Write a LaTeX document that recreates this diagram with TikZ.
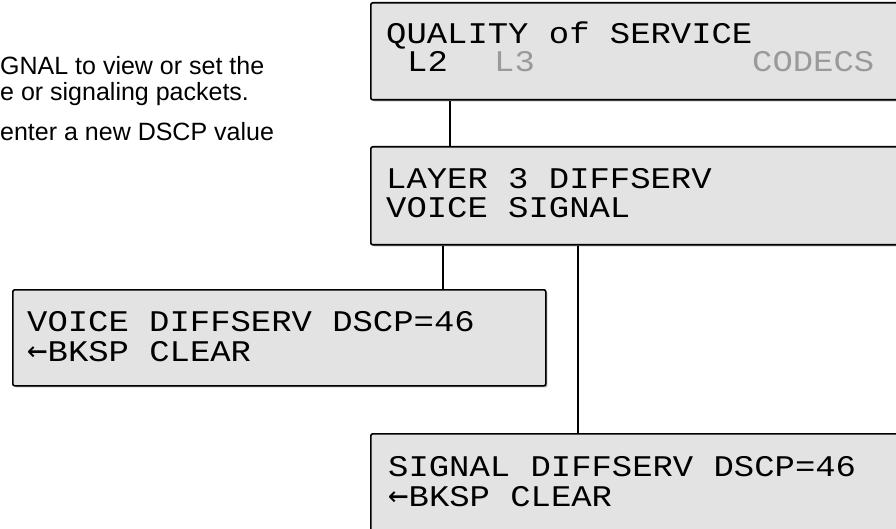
\documentclass[tikz,border=0pt]{standalone}
\usepackage{fontspec}
\setmainfont{Liberation Sans}
\newfontfamily\lcdfont[FakeStretch=1.13]{Liberation Mono}
\newfontfamily\arrowfont{DejaVu Sans Mono}
\usetikzlibrary{shadows}
\definecolor{lcdfill}{HTML}{E3E3E3}
\definecolor{lcdgray}{HTML}{9A9A9A}
\newcommand{\bkarrow}{{\arrowfont\fontsize{34}{40}\selectfont ←}}
\begin{document}
\begin{tikzpicture}[x=1pt,y=-1pt,
  lcdbox/.style={draw=black, line width=1.6pt, fill=lcdfill, rounded corners=2pt,
    drop shadow={shadow xshift=1.6pt, shadow yshift=-1.6pt, fill=gray!60, opacity=1},
    anchor=north west, inner sep=0pt},
  lcdtext/.style={anchor=base west, inner sep=0pt, font=\lcdfont\fontsize{30}{36}\selectfont},
  note/.style={anchor=base west, inner sep=0pt, font=\fontsize{25}{30}\selectfont},
  wire/.style={draw=black, line width=1.6pt}]
\clip (0,0) rectangle (896,529);
\useasboundingbox (0,0) rectangle (896,529);
% notes
\node[note] (n1) at (0,75) {GNAL to view or set the};
\node[note] (n2) at (0,101) {e or signaling packets.};
\node[note] (n3) at (0,141) {enter a new DSCP value};
% boxes
\node[lcdbox, minimum width=560pt, minimum height=97pt] (box1) at (370,2) {};
\node[lcdbox, minimum width=560pt, minimum height=98pt] (box2) at (370,146) {};
\node[lcdbox, minimum width=533pt, minimum height=96pt] (box3) at (12,289) {};
\node[lcdbox, minimum width=560pt, minimum height=120pt] (box4) at (370,433) {};
% texts
\node[lcdtext] (t11) at (386,44) {QUALITY of SERVICE};
\node[lcdtext] (t12) at (407,72) {L2};
\node[lcdtext, text=lcdgray] (t13) at (494,72) {L3};
\node[lcdtext, text=lcdgray] (t14) at (752,72) {CODECS};
\node[lcdtext] (t21) at (386,189) {LAYER 3 DIFFSERV};
\node[lcdtext] (t22) at (386,218) {VOICE SIGNAL};
\node[lcdtext] (t31) at (27,331) {VOICE DIFFSERV DSCP=46};
\node[lcdtext] (t32) at (27,361) {\bkarrow BKSP CLEAR};
\node[lcdtext] (t41) at (388,476) {SIGNAL DIFFSERV DSCP=46};
\node[lcdtext] (t42) at (388,506) {\bkarrow BKSP CLEAR};
% connectors
\coordinate (ca) at (450,0);
\coordinate (cb) at (443,0);
\coordinate (cc) at (578,0);
\draw[wire] (box1.south -| ca) -- (box2.north -| ca);
\draw[wire] (box2.south -| cb) -- (box3.north -| cb);
\draw[wire] (box2.south -| cc) -- (box4.north -| cc);
\end{tikzpicture}
\end{document}
